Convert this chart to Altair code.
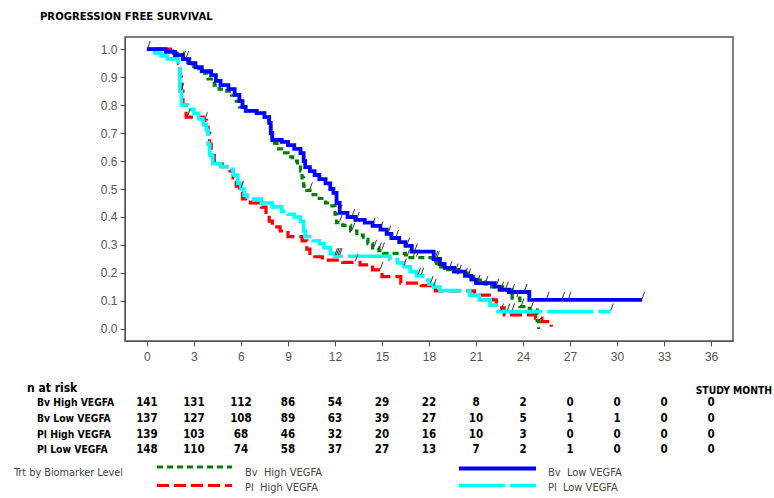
import altair as alt
import pandas as pd
import numpy as np

# ---------------- data ----------------
series_names = ["Bv High VEGFA", "Bv Low VEGFA", "Pl High VEGFA", "Pl Low VEGFA"]

bv_high_t = [0, 1.0, 1.7, 2.3, 2.6, 3.0, 3.5, 3.9, 4.3, 4.6, 5.1, 5.4, 5.7, 5.9, 6.2, 7.0, 7.5, 7.8, 7.9, 8.0,
             8.3, 8.6, 9.0, 9.3, 9.6, 9.8, 9.9, 10.0, 10.2, 10.6, 11.0, 11.4, 11.8, 12.0, 12.1, 12.5, 13.0, 13.4,
             13.8, 14.1, 14.4, 14.8, 15.1, 16.5, 18.2, 18.5, 19.2, 19.9, 20.5, 21.0, 21.6, 22.0, 22.7, 23.3,
             23.8, 24.4, 24.9, 25.0]
bv_high_s = [1.0, 0.993, 0.985, 0.965, 0.944, 0.93, 0.914, 0.893, 0.871, 0.857, 0.85, 0.835, 0.814, 0.793,
             0.779, 0.771, 0.757, 0.736, 0.70, 0.664, 0.643, 0.629, 0.615, 0.60, 0.586, 0.565, 0.54, 0.51,
             0.495, 0.48, 0.466, 0.45, 0.44, 0.41, 0.38, 0.37, 0.35, 0.335, 0.32, 0.305, 0.29, 0.28, 0.27,
             0.255, 0.24, 0.222, 0.212, 0.20, 0.187, 0.175, 0.16, 0.15, 0.14, 0.11, 0.08, 0.068, 0.03, 0.0]
bv_high_cens = [10.4, 12.3, 13.1, 14.5, 14.8, 15.0, 16.6, 17.0, 17.2, 18.6, 19.3, 19.9, 20.5, 21.6, 22.3,
                23.6, 23.9, 24.5]

bv_low_t = [0, 1.2, 1.8, 2.3, 2.7, 3.1, 3.5, 4.1, 4.4, 4.7, 5.2, 5.6, 5.9, 6.1, 6.3, 7.0, 7.5, 7.8, 7.9, 8.0,
            8.6, 9.0, 9.4, 9.8, 10.0, 10.1, 10.4, 10.7, 11.0, 11.4, 11.7, 11.9, 12.1, 12.3, 12.8, 13.3, 13.9,
            14.4, 14.9, 15.3, 15.6, 16.1, 16.5, 16.9, 18.3, 18.7, 19.0, 19.6, 20.3, 20.7, 21.0, 22.2, 22.5,
            23.1, 24.4, 31.6]
bv_low_s = [1.0, 0.99, 0.978, 0.964, 0.95, 0.935, 0.921, 0.907, 0.886, 0.871, 0.857, 0.836, 0.814, 0.793,
            0.779, 0.771, 0.757, 0.736, 0.70, 0.675, 0.668, 0.657, 0.643, 0.628, 0.60, 0.578, 0.564, 0.55,
            0.535, 0.52, 0.50, 0.486, 0.45, 0.415, 0.40, 0.39, 0.38, 0.368, 0.355, 0.34, 0.325, 0.31, 0.297,
            0.276, 0.25, 0.232, 0.218, 0.205, 0.19, 0.176, 0.164, 0.151, 0.14, 0.132, 0.104, 0.104]
bv_low_cens = [2.3, 2.5, 12.3, 13.1, 13.4, 14.4, 14.9, 15.4, 15.9, 16.6, 17.1, 18.4, 18.5, 19.7, 20.3, 21.1,
               22.6, 22.9, 23.3, 24.1, 25.5, 26.5, 26.9, 31.6]

pl_high_t = [0, 1.5, 1.8, 2.0, 2.1, 2.2, 2.3, 2.5, 3.6, 3.8, 3.9, 4.0, 4.1, 4.3, 4.8, 5.3, 5.5, 5.7, 5.9, 6.1,
             6.6, 7.3, 7.6, 7.8, 8.0, 8.5, 9.0, 9.9, 10.2, 10.4, 11.2, 12.5, 13.6, 14.4, 15.0, 16.2, 17.5, 18.4,
             20.9, 22.1, 22.3, 22.8, 24.8, 25.2, 25.8]
pl_high_s = [1.0, 0.993, 0.978, 0.95, 0.90, 0.85, 0.80, 0.757, 0.745, 0.72, 0.70, 0.66, 0.62, 0.59, 0.58,
             0.565, 0.54, 0.51, 0.49, 0.465, 0.45, 0.435, 0.41, 0.385, 0.365, 0.35, 0.33, 0.315, 0.285, 0.258,
             0.246, 0.238, 0.229, 0.211, 0.187, 0.164, 0.155, 0.136, 0.121, 0.104, 0.075, 0.05, 0.039, 0.026,
             0.008]
pl_high_cens = [2.2, 2.6, 3.7, 13.3, 14.9]

pl_low_t = [0, 0.5, 0.9, 1.3, 2.0, 2.1, 2.2, 2.6, 3.0, 3.3, 3.6, 3.8, 3.9, 4.0, 4.2, 4.7, 5.2, 5.5, 5.8, 6.0,
            6.2, 6.4, 7.3, 8.0, 8.6, 9.0, 9.4, 9.8, 10.0, 10.1, 10.6, 11.0, 11.3, 11.7, 12.0, 15.5, 16.0, 16.4,
            16.8, 17.2, 17.6, 18.0, 18.3, 18.7, 20.6, 21.2, 21.9, 22.4, 29.6]
pl_low_s = [1.0, 0.986, 0.975, 0.965, 0.93, 0.85, 0.80, 0.785, 0.77, 0.75, 0.73, 0.71, 0.66, 0.62, 0.59, 0.58,
            0.57, 0.55, 0.52, 0.50, 0.478, 0.464, 0.45, 0.436, 0.42, 0.41, 0.40, 0.385, 0.35, 0.33, 0.315,
            0.305, 0.29, 0.27, 0.26, 0.248, 0.236, 0.222, 0.205, 0.19, 0.175, 0.16, 0.15, 0.137, 0.121, 0.104,
            0.085, 0.062, 0.062]
pl_low_cens = [0.05, 6.0, 12.0, 12.1, 12.2, 12.3, 16.4, 17.3, 17.5, 18.1, 18.3, 22.6, 23.0, 23.3, 29.6]

risk_months = [0, 3, 6, 9, 12, 15, 18, 21, 24, 27, 30, 33, 36]
risk_bv_high = [141, 131, 112, 86, 54, 29, 22, 8, 2, 0, 0, 0, 0]
risk_bv_low = [137, 127, 108, 89, 63, 39, 27, 10, 5, 1, 1, 0, 0]
risk_pl_high = [139, 103, 68, 46, 32, 20, 16, 10, 3, 0, 0, 0, 0]
risk_pl_low = [148, 110, 74, 58, 37, 27, 13, 7, 2, 1, 0, 0, 0]

x_ticks = list(range(0, 37, 3))
y_ticks = [0.0, 0.1, 0.2, 0.3, 0.4, 0.5, 0.6, 0.7, 0.8, 0.9, 1.0]

# ---------------- styling ----------------
NARROW = "Liberation Sans Narrow, DejaVu Sans Condensed, sans-serif"
AXFONT = "Liberation Sans, Arial, sans-serif"
LEFT, TOP, W, H = 125, 37, 608, 304
NB = "\u00a0"

styles = {
    "Bv High VEGFA": dict(color="#008000", dash=[6, 4], width=3.2),
    "Bv Low VEGFA": dict(color="#0000ff", dash=[1, 0], width=3.8),
    "Pl High VEGFA": dict(color="#ff0000", dash=[12, 5], width=3.2),
    "Pl Low VEGFA": dict(color="#00ffff", dash=[46, 5], width=3.6),
}
curves = {
    "Bv High VEGFA": (bv_high_t, bv_high_s, bv_high_cens),
    "Bv Low VEGFA": (bv_low_t, bv_low_s, bv_low_cens),
    "Pl High VEGFA": (pl_high_t, pl_high_s, pl_high_cens),
    "Pl Low VEGFA": (pl_low_t, pl_low_s, pl_low_cens),
}

x_scale = alt.Scale(domain=[-1.4, 37.4], nice=False, zero=False)
y_scale = alt.Scale(domain=[-0.043, 1.043], nice=False, zero=False)
x_axis = alt.Axis(values=x_ticks, title=None, grid=False, tickSize=5, labelPadding=5,
                  labelFont=AXFONT, labelFontSize=12, labelColor="#555555",
                  domainColor="#555555", tickColor="#555555", labelFlush=False)
y_axis = alt.Axis(values=y_ticks, format=".1f", title=None, grid=False, tickSize=5, labelPadding=3,
                  labelFont=AXFONT, labelFontSize=12, labelColor="#555555",
                  domainColor="#555555", tickColor="#555555", labelFlush=False)

X = lambda f: alt.X(f, scale=x_scale, axis=x_axis)
Y = lambda f: alt.Y(f, scale=y_scale, axis=y_axis)

layers = []

# curves (drawing order: red, green, cyan, blue)
for name in ["Pl High VEGFA", "Bv High VEGFA", "Pl Low VEGFA", "Bv Low VEGFA"]:
    t, s, _ = curves[name]
    st = styles[name]
    df = pd.DataFrame({"month": t, "surv": s})
    layers.append(
        alt.Chart(df).mark_line(interpolate="step-after", color=st["color"], strokeDash=st["dash"],
                                strokeWidth=st["width"], strokeCap="butt")
        .encode(x=X("month:Q"), y=Y("surv:Q"))
    )

# censor ticks
cens_rows = []
for name, (t, s, c) in curves.items():
    ta = np.array(t)
    for m in c:
        idx = int(np.searchsorted(ta, m, side="right") - 1)
        cens_rows.append({"month": m, "surv": s[idx], "series": name})
cens_df = pd.DataFrame(cens_rows)
layers.append(
    alt.Chart(cens_df).mark_point(shape="M0,-0.5L1.1,-3.6", size=20, filled=False,
                                  stroke="#333333", strokeWidth=1, opacity=1)
    .encode(x=X("month:Q"), y=Y("surv:Q"))
)

# number at risk table
row_y = [365.5, 381.5, 397.5, 413]
risk_lists = [risk_bv_high, risk_bv_low, risk_pl_high, risk_pl_low]
for name, ry, vals in zip(series_names, row_y, risk_lists):
    df = pd.DataFrame({"month": risk_months, "n": vals})
    layers.append(
        alt.Chart(df).mark_text(font=NARROW, fontSize=11.5, fontWeight="bold", color="#000000",
                                baseline="middle", align="center")
        .encode(x=X("month:Q"), y=alt.value(ry), text="n:Q")
    )
    layers.append(
        alt.Chart(pd.DataFrame({"lab": [name]})).mark_text(font=NARROW, fontSize=10.3, fontWeight="bold",
                                                            color="#000000", baseline="middle", align="left")
        .encode(x=alt.value(37 - LEFT), y=alt.value(ry), text="lab:N")
    )


def label(txt, px, py, size, bold=True, color="#000000", align="left", font=NARROW):
    return alt.Chart(pd.DataFrame({"lab": [txt]})).mark_text(
        font=font, fontSize=size, fontWeight="bold" if bold else "normal", color=color,
        baseline="middle", align=align
    ).encode(x=alt.value(px - LEFT), y=alt.value(py - TOP), text="lab:N")


layers.append(label("PROGRESSION FREE SURVIVAL", 40, 17, 11.2))
layers.append(label("n at risk", 27, 388, 12))
layers.append(label("STUDY MONTH", 772, 391, 10.3, align="right"))
layers.append(label("Trt by Biomarker Level", 14, 473, 10.8, bold=False, color="#444444"))

# legend samples
legend_items = [
    ("Bv High VEGFA", 157, 232, 467, "Bv" + NB + NB + "High VEGFA", 245, 473),
    ("Pl High VEGFA", 157, 232, 485.5, "Pl" + NB + NB + "High VEGFA", 245, 488),
    ("Bv Low VEGFA", 459, 536, 468.5, "Bv" + NB + NB + "Low VEGFA", 548, 473),
    ("Pl Low VEGFA", 459, 536, 485.5, "Pl" + NB + NB + "Low VEGFA", 548, 488),
]
for key, x1, x2, ly, txt, tx, ty in legend_items:
    st = styles[key]
    layers.append(
        alt.Chart(pd.DataFrame({"k": [key]})).mark_rule(color=st["color"], strokeDash=st["dash"],
                                                        strokeWidth=st["width"], strokeCap="butt")
        .encode(x=alt.value(x1 - LEFT), x2=alt.value(x2 - LEFT), y=alt.value(ly - TOP))
    )
    layers.append(label(txt, tx, ty, 11, bold=False, color="#444444"))

chart = alt.layer(*layers).properties(
    width=W, height=H,
    padding={"left": LEFT, "top": TOP, "right": 774 - LEFT - W, "bottom": 498 - TOP - H},
    autosize=alt.AutoSizeParams(type="none"),
    background="#ffffff",
).configure_view(stroke="#555555", strokeWidth=1.5)

chart.save("out.html", embed_options={"renderer": "svg", "actions": False})
